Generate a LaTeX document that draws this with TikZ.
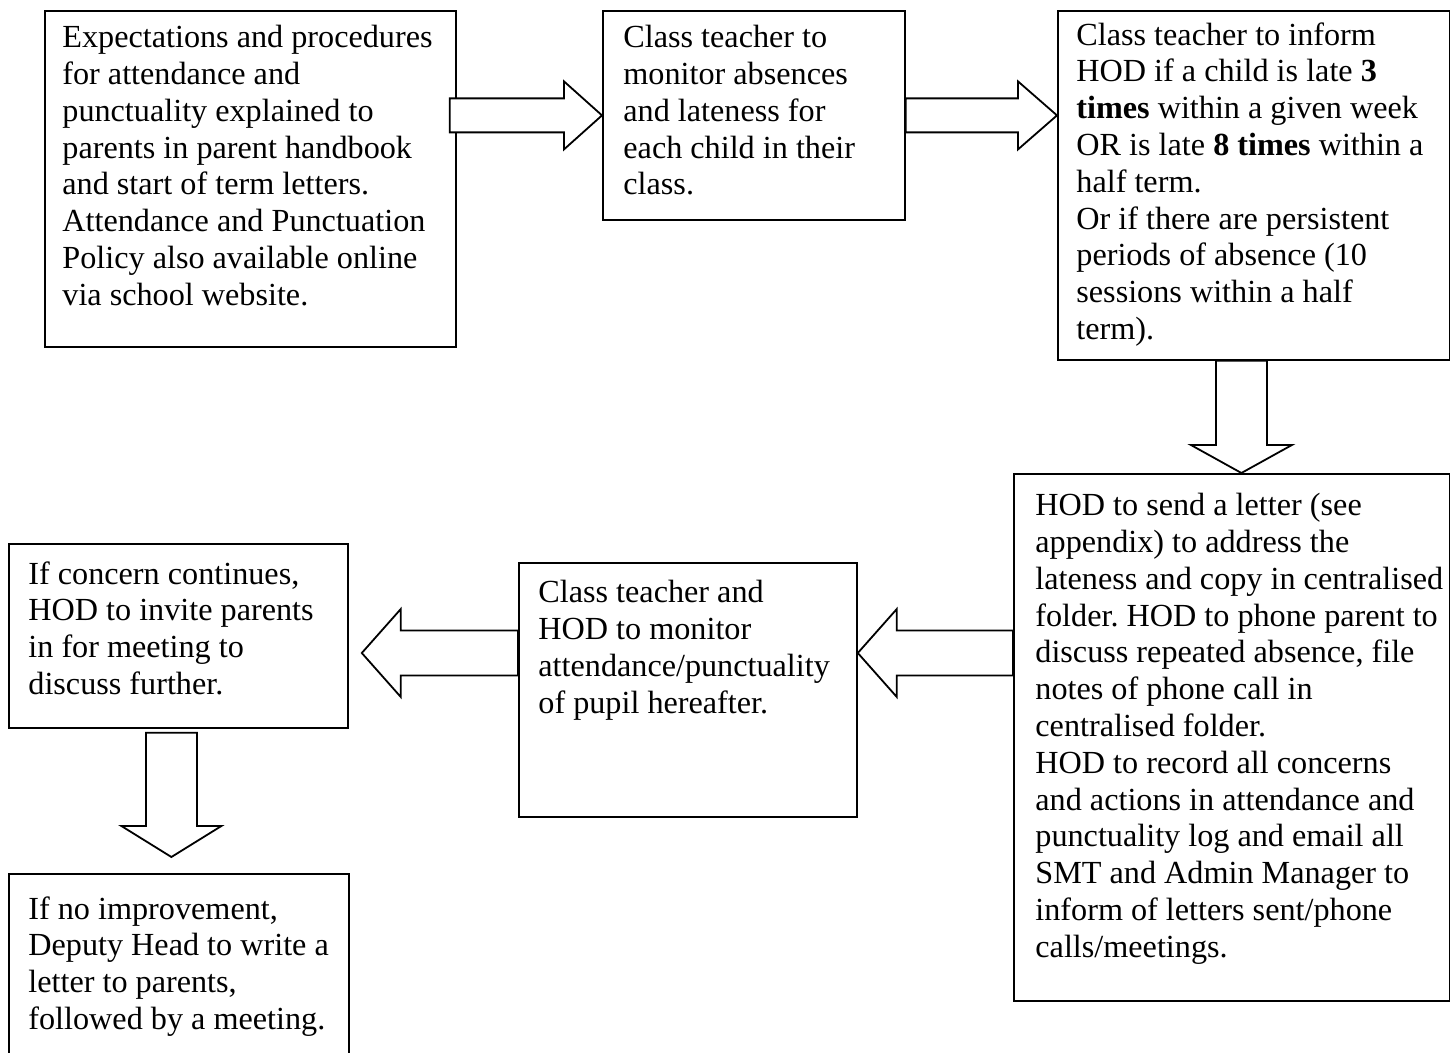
\documentclass[tikz,border=0pt]{standalone}
\usepackage{fontspec}
\setmainfont{Liberation Serif}
\frenchspacing
\usetikzlibrary{calc}
\tikzset{
  panel/.style={draw,line width=0.9pt,inner sep=0pt,anchor=north west},
  txt/.style={font=\fontsize{16.1}{18.4}\selectfont,align=left,inner sep=0pt,anchor=north west},
  blockarrow/.style n args={3}{draw,fill=white,line width=0.9pt,line join=miter,
    to path={($(\tikztotarget)!#3!(\tikztostart)$) coordinate (babase)
      ($(\tikztostart)!#1!90:(\tikztotarget)$) -- ($(babase)!#1!-90:(\tikztostart)$)
      -- ($(babase)!#2!-90:(\tikztostart)$) -- (\tikztotarget)
      -- ($(babase)!#2!90:(\tikztostart)$) -- ($(babase)!#1!90:(\tikztostart)$)
      -- ($(\tikztostart)!#1!-90:(\tikztotarget)$) -- cycle}}
}
\begin{document}
\begin{tikzpicture}[x=0.5pt,y=-0.5pt]
\useasboundingbox (0,0) rectangle (1450,1053);
% boxes, top row
\node[panel,minimum width=205.5pt,minimum height=168pt] (expect) at (44,10) {};
\node[panel,minimum width=151pt,minimum height=104.5pt] (monitor) at (602,10) {};
\node[panel,minimum width=196pt,minimum height=174.5pt] (inform) at (1057,10) {};
% boxes, lower rows
\node[panel,minimum width=218pt,minimum height=263.5pt] (letter) at (1013,473) {};
\node[panel,minimum width=169pt,minimum height=127pt] (watch) at (518,562) {};
\node[panel,minimum width=169.5pt,minimum height=92pt] (concern) at (8,543) {};
\node[panel,minimum width=170pt,minimum height=100pt] (noimp) at (8,873) {};
% texts
\node[txt] (expectTxt) at (62,25) {Expectations and procedures\\for attendance and\\punctuality explained to\\parents in parent handbook\\and start of term letters.\\Attendance and Punctuation\\Policy also available online\\via school website.};
\node[txt] (monitorTxt) at (623,25) {Class teacher to\\monitor absences\\and lateness for\\each child in their\\class.};
\node[txt] (informTxt) at (1076,22) {Class teacher to inform\\HOD if a child is late \textbf{3}\\\textbf{times} within a given week\\OR is late \textbf{8 times} within a\\half term.\\Or if there are persistent\\periods of absence (10\\sessions within a half\\term).};
\node[txt] (letterTxt) at (1035,493) {HOD to send a letter (see\\appendix) to address the\\lateness and copy in centralised\\folder. HOD to phone parent to\\discuss repeated absence, file\\notes of phone call in\\centralised folder.\\HOD to record all concerns\\and actions in attendance and\\punctuality log and email all\\SMT and Admin Manager to\\inform of letters sent/phone\\calls/meetings.};
\node[txt] (watchTxt) at (538,580) {Class teacher and\\HOD to monitor\\attendance/punctuality\\of pupil hereafter.};
\node[txt] (concernTxt) at (28,561) {If concern continues,\\HOD to invite parents\\in for meeting to\\discuss further.};
\node[txt] (noimpTxt) at (28,896) {If no improvement,\\Deputy Head to write a\\letter to parents,\\followed by a meeting.};
% block arrows
\coordinate (lrow) at (0,653);
\coordinate (downA) at ($(inform.south)+(-12.5,0)$);
\coordinate (downB) at ($(concern.south)+(-7,4)$);
\draw[blockarrow={8.5pt}{17pt}{19pt}] ($(expect.east |- monitor.west)+(-7,0)$) to (monitor.west);
\draw[blockarrow={8.5pt}{17pt}{19.5pt}] (monitor.east) to (inform.west |- monitor.east);
\draw[blockarrow={12.75pt}{25.25pt}{14pt}] (downA) to (downA |- letter.north);
\draw[blockarrow={11.25pt}{22pt}{19.5pt}] (letter.west |- lrow) to (watch.east |- lrow);
\draw[blockarrow={11.25pt}{22pt}{19.5pt}] (watch.west |- lrow) to ($(concern.east |- lrow)+(13,0)$);
\draw[blockarrow={12.75pt}{25pt}{15.5pt}] (downB) to ($(downB |- noimp.north)+(0,-16)$);
\end{tikzpicture}
\end{document}
